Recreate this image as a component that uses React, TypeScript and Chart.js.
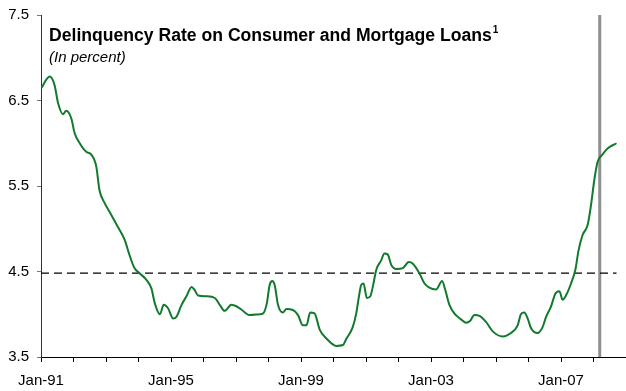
import React, { useEffect, useRef } from "react";
import { Chart, registerables } from "chart.js";

Chart.register(...registerables);

// months since Jan-1991
const months = [
  0, 3.2, 5, 6.3, 8.1, 9.3, 11.2, 12.4, 14.3, 16.7, 18.5, 20.4, 21.6, 23.5, 25.3, 28.4, 30.9, 32.7, 34.5, 36.4,
  39, 40.8, 42, 43.9, 45.3, 46.9, 48.8, 50, 51.9, 53.7, 55.6, 56.8, 58, 61.1, 64.2, 66, 67.8, 70.3, 73.4, 77,
  80.7, 82, 83.4, 84.4, 85.4, 86.3, 87.5, 89.3, 90.6, 93, 94.9, 96.7, 98, 99.4, 101, 102.9, 105.3, 109, 111.5, 112.7,
  115.1, 116.4, 117.4, 118.2, 119.1, 120.3, 121.6, 122.5, 123.8, 125.6, 126.8, 128, 129.3, 131.2, 133.6, 135.8, 137.3, 139.7, 141.6, 143.4,
  145.9, 148.1, 149.3, 150.8, 152.6, 155.1, 157, 158.4, 160, 161.9, 164.3, 166.8, 170.5, 173.5, 176, 177.2, 178.4, 179.7, 180.9, 183.4,
  185.2, 186.5, 188.3, 189.9, 191.4, 192.6, 194, 195.7, 197.3, 198.5, 200, 201.8, 203, 204.3, 205.5, 207.1, 209.2, 212.5,
];
const rates = [
  6.64, 6.78, 6.68, 6.47, 6.34, 6.38, 6.29, 6.12, 6.0, 5.9, 5.87, 5.73, 5.45, 5.3, 5.2, 5.02, 4.87, 4.69, 4.54, 4.48,
  4.4, 4.3, 4.13, 4.0, 4.11, 4.07, 3.95, 3.97, 4.11, 4.21, 4.32, 4.28, 4.22, 4.21, 4.19, 4.11, 4.04, 4.11, 4.07, 3.99,
  4.0, 4.01, 4.13, 4.34, 4.39, 4.34, 4.11, 4.02, 4.06, 4.05, 3.99, 3.87, 3.87, 4.02, 4.01, 3.82, 3.72, 3.63, 3.64, 3.71,
  3.85, 4.01, 4.21, 4.34, 4.36, 4.19, 4.21, 4.32, 4.52, 4.63, 4.71, 4.7, 4.58, 4.53, 4.54, 4.61, 4.59, 4.48, 4.36, 4.31,
  4.29, 4.39, 4.28, 4.11, 4.01, 3.94, 3.9, 3.92, 3.99, 3.98, 3.91, 3.8, 3.74, 3.78, 3.87, 4.0, 4.02, 3.95, 3.84, 3.78,
  3.85, 3.97, 4.09, 4.24, 4.27, 4.17, 4.23, 4.36, 4.52, 4.75, 4.93, 5.04, 5.26, 5.57, 5.78, 5.86, 5.94, 6.0,
];

const averageRate = 4.48;
const averageSpan = [0, 212.5];
const markerMonth = 206.3;
const xTickMonths = [0, 48, 96, 144, 192];
const xTickLabels = ["Jan-91", "Jan-95", "Jan-99", "Jan-03", "Jan-07"];
const yTicks = [3.5, 4.5, 5.5, 6.5, 7.5];

const titleText = "Delinquency Rate on Consumer and Mortgage Loans";
const footnoteMark = "1";
const subtitleText = "(In percent)";

const FONT = "'Liberation Sans', Arial, Helvetica, sans-serif";

export default function App() {
  const ref = useRef<HTMLCanvasElement | null>(null);

  useEffect(() => {
    document.body.style.margin = "0";
    const canvas = ref.current;
    if (!canvas) return;

    const titlePlugin = {
      id: "titlePlugin",
      afterDraw(chart: any) {
        const ctx = chart.ctx;
        ctx.save();
        ctx.fillStyle = "#000";
        ctx.textBaseline = "alphabetic";
        ctx.textAlign = "left";
        ctx.font = `bold 17.6px ${FONT}`;
        ctx.fillText(titleText, 49, 41);
        const w = ctx.measureText(titleText).width;
        ctx.font = `bold 10px ${FONT}`;
        ctx.fillText(footnoteMark, 49 + w + 1, 33);
        ctx.font = `italic 15px ${FONT}`;
        ctx.fillText(subtitleText, 49, 62);
        ctx.restore();
      },
    };

    const chart = new Chart(canvas, {
      type: "line",
      data: {
        datasets: [
          {
            data: months.map((m, i) => ({ x: m, y: rates[i] })),
            borderColor: "#117a2c",
            borderWidth: 2,
            pointRadius: 0,
            cubicInterpolationMode: "monotone",
            fill: false,
          },
          {
            data: averageSpan.map((m) => ({ x: m, y: averageRate })),
            borderColor: "#000",
            borderWidth: 1.2,
            borderDash: [8, 5],
            pointRadius: 0,
            fill: false,
          },
          {
            data: [
              { x: markerMonth, y: yTicks[0] },
              { x: markerMonth, y: yTicks[yTicks.length - 1] },
            ],
            borderColor: "#8f8f8f",
            borderWidth: 3,
            pointRadius: 0,
            fill: false,
          },
        ],
      },
      options: {
        animation: false,
        responsive: false,
        devicePixelRatio: 1,
        layout: { padding: { top: 15, right: 0, left: 0, bottom: 0 } },
        plugins: { legend: { display: false }, tooltip: { enabled: false }, title: { display: false } },
        scales: {
          x: {
            type: "linear",
            min: 0,
            max: 216,
            afterBuildTicks: (scale: any) => {
              const t = [];
              for (let v = 0; v <= 216; v += 12) t.push({ value: v });
              scale.ticks = t;
            },
            afterFit: (scale: any) => {
              scale.height = 34;
              scale.paddingLeft = 0;
              scale.paddingRight = 0;
            },
            ticks: {
              autoSkip: false,
              maxRotation: 0,
              padding: 10,
              color: "#000",
              font: { family: FONT, size: 15 },
              callback: (v: any) => {
                const i = xTickMonths.indexOf(Number(v));
                return i >= 0 ? xTickLabels[i] : "";
              },
            },
            grid: { drawOnChartArea: false, drawTicks: true, tickLength: 5, color: "#000" },
            border: { color: "#000", width: 1 },
          },
          y: {
            type: "linear",
            min: 3.5,
            max: 7.5,
            afterBuildTicks: (scale: any) => {
              scale.ticks = yTicks.map((v) => ({ value: v }));
            },
            afterFit: (scale: any) => {
              scale.width = 41;
              scale.paddingTop = 0;
              scale.paddingBottom = 0;
            },
            ticks: {
              padding: 8,
              color: "#000",
              font: { family: FONT, size: 15 },
              callback: (v: any) => Number(v).toFixed(1),
            },
            grid: { drawOnChartArea: false, drawTicks: true, tickLength: 4, color: "#777" },
            border: { color: "#333", width: 1 },
          },
        },
      } as any,
      plugins: [titlePlugin],
    });

    return () => chart.destroy();
  }, []);

  return (
    <div style={{ width: 626, height: 391 }}>
      <canvas ref={ref} width={626} height={391} />
    </div>
  );
}
